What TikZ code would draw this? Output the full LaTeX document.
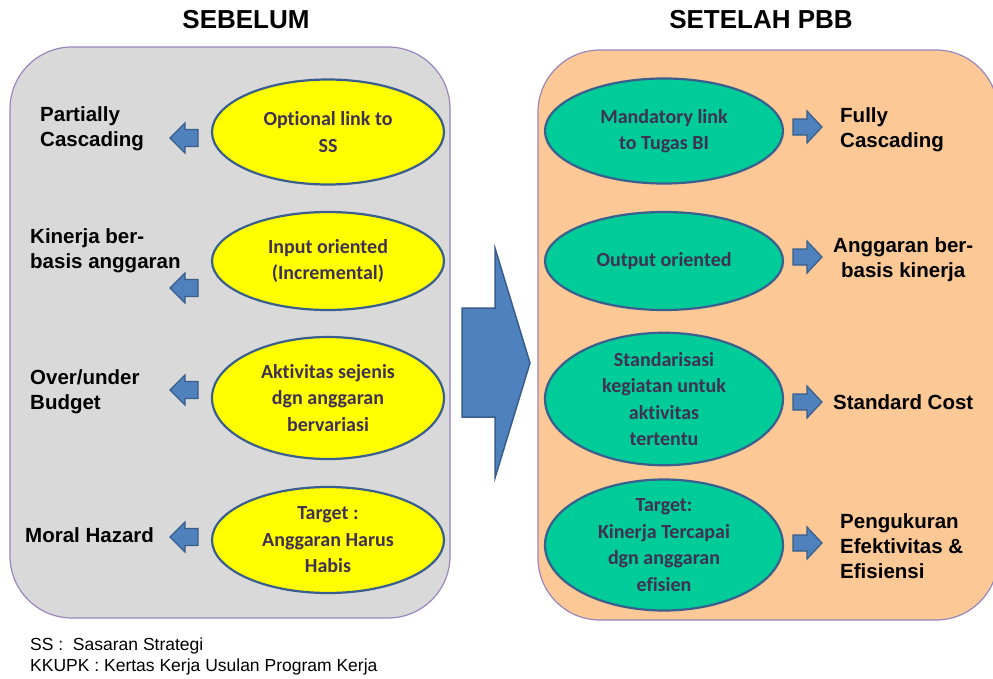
\documentclass[tikz,border=0pt]{standalone}
\usepackage{fontspec}
\setmainfont{Liberation Sans}
\newfontfamily\calib[Ligatures=NoCommon,Contextuals=NoAlternate]{Carlito}
\usetikzlibrary{shapes.geometric}
\definecolor{panelgray}{HTML}{D9D9D9}
\definecolor{panelpeach}{HTML}{FBC896}
\definecolor{panelborder}{HTML}{9A86BE}
\definecolor{ellyellow}{HTML}{FFFF00}
\definecolor{ellteal}{HTML}{00CC99}
\definecolor{ellborder}{HTML}{3A5F8E}
\definecolor{elltext}{HTML}{403152}
\definecolor{arrfill}{HTML}{4F81BD}
\definecolor{arrborder}{HTML}{385D8A}
\tikzset{
  ell/.style={ellipse, draw=ellborder, line width=2.2pt, inner sep=0pt,
    font=\calib\bfseries\fontsize{20}{26.5}\selectfont, text=elltext, align=center},
  lbl/.style={font=\bfseries\fontsize{20.5}{25}\selectfont, anchor=west, inner sep=0pt},
  ttl/.style={font=\bfseries\fontsize{26}{30}\selectfont, inner sep=0pt},
  foot/.style={font=\fontsize{17.5}{21}\selectfont, anchor=west, inner sep=0pt},
  blockarr/.style={fill=arrfill, draw=arrborder, line width=1.2pt, line join=miter},
  panel/.style={draw=panelborder, line width=1.2pt, rounded corners=62pt}
}
\newcommand\myleftarr[2]{% tip x, center y
  \path[blockarr] (#1,#2) -- ++(15,-15) -- ++(0,6.5) -- ++(13,0) -- ++(0,17) -- ++(-13,0) -- ++(0,6.5) -- cycle;}
\newcommand\myrightarr[2]{% tip x, center y
  \path[blockarr] (#1,#2) -- ++(-15,-16) -- ++(0,8) -- ++(-14,0) -- ++(0,16) -- ++(14,0) -- ++(0,8) -- cycle;}
\begin{document}
\begin{tikzpicture}[x=1pt,y=-1pt]
\useasboundingbox (0,0) rectangle (993,678);
\clip (0,0) rectangle (993,678);
% panels
\path[panel, fill=panelgray] (10,47) rectangle (450,618);
\path[panel, fill=panelpeach] (538,50) rectangle (998,620);
% titles
\node[ttl] (t1) at (246,20) {SEBELUM};
\node[ttl] (t2) at (761,20) {SETELAH PBB};
% left ellipses
\node[ell, fill=ellyellow, minimum width=232pt, minimum height=105pt] (l1) at (328,132) {Optional link to\\SS};
\node[ell, fill=ellyellow, minimum width=232pt, minimum height=98pt] (l2) at (328,261) {Input oriented\\(Incremental)};
\node[ell, fill=ellyellow, minimum width=232pt, minimum height=122pt] (l3) at (328,398) {Aktivitas sejenis\\dgn anggaran\\bervariasi};
\node[ell, fill=ellyellow, minimum width=232pt, minimum height=106pt] (l4) at (328,540) {Target :\\Anggaran Harus\\Habis};
% right ellipses
\node[ell, fill=ellteal, minimum width=238pt, minimum height=105pt] (r1) at (664,131) {Mandatory link\\to Tugas BI};
\node[ell, fill=ellteal, minimum width=238pt, minimum height=98pt] (r2) at (664,261) {Output oriented};
\node[ell, fill=ellteal, minimum width=238pt, minimum height=128pt] (r3) at (664,399) {Standarisasi\\kegiatan untuk\\aktivitas\\tertentu};
\node[ell, fill=ellteal, minimum width=238pt, minimum height=113pt] (r4) at (664,545) {Target:\\Kinerja Tercapai\\dgn anggaran\\efisien};
% left labels
\node[lbl, align=left] (a1) at (40,129) {Partially\\Cascading};
\node[lbl, align=left] (a2) at (30,251) {Kinerja ber-\\basis anggaran};
\node[lbl, align=left] (a3) at (30,392) {Over/under\\Budget};
\node[lbl, align=left] (a4) at (25,535) {Moral Hazard};
% right labels
\node[lbl, align=left] (b1) at (840,130) {Fully\\Cascading};
\node[lbl, align=center] (b2) at (833,260) {Anggaran ber-\\basis kinerja};
\node[lbl, align=left] (b3) at (833,402) {Standard Cost};
\node[lbl, align=left] (b4) at (840,546) {Pengukuran\\Efektivitas \&\\Efisiensi};
% small block arrows
\myleftarr{170}{138}
\myleftarr{170}{288}
\myleftarr{170}{390}
\myleftarr{170}{537}
\myrightarr{822}{127}
\myrightarr{822}{257}
\myrightarr{822}{402}
\myrightarr{822}{543}
% big arrow
\path[blockarr, line width=1.5pt] (462,308) -- (495,308) -- (495,248) -- (530,363) -- (495,478) -- (495,417) -- (462,417) -- cycle;
% footer
\node[foot] (f1) at (30,646) {SS :~ Sasaran Strategi};
\node[foot] (f2) at (30,667) {KKUPK : Kertas Kerja Usulan Program Kerja};
\end{tikzpicture}
\end{document}
